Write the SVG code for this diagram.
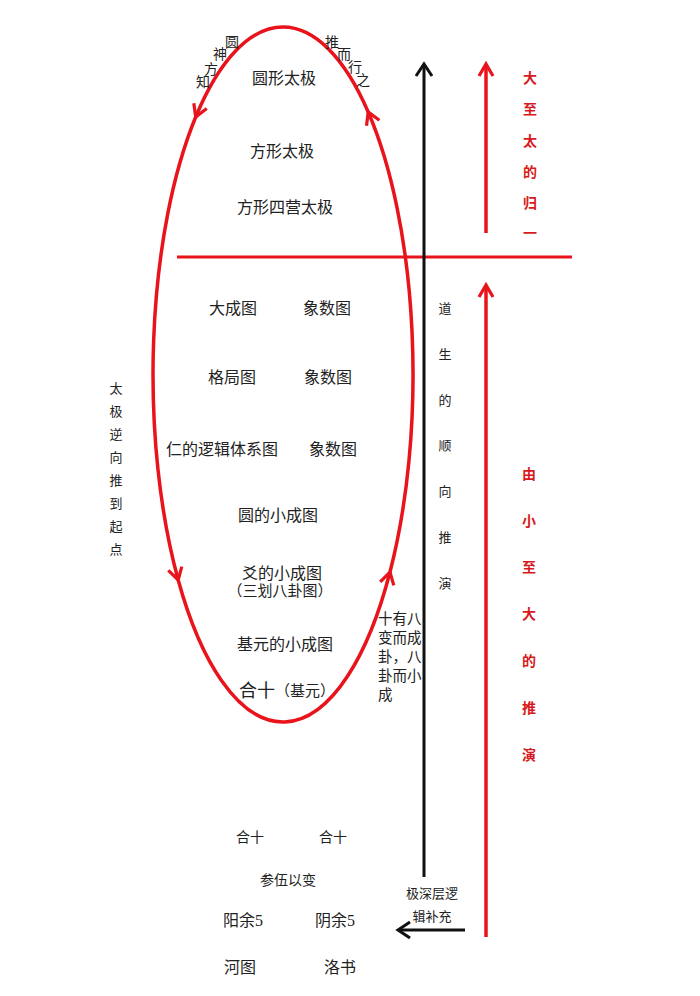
<svg xmlns="http://www.w3.org/2000/svg" width="700" height="996" viewBox="0 0 700 996">
<style>
.t{font-family:"Liberation Serif","Noto Sans CJK SC",serif;font-size:16px;fill:#222;text-anchor:middle;dominant-baseline:central}
.sm{font-size:14px}
.p{font-size:15px}
.big{font-size:18px}
.v{font-size:14.5px;text-anchor:start}
.s{font-family:"Noto Sans CJK SC",sans-serif;font-size:13px;fill:#222;text-anchor:middle;dominant-baseline:central}
.r{font-family:"Noto Sans CJK SC",sans-serif;font-size:14px;fill:#d71920;font-weight:bold;text-anchor:middle;dominant-baseline:central}
.red{stroke:#e8131b;fill:none;stroke-width:3.5}
.blk{stroke:#111;fill:none;stroke-width:3}
</style>
<defs>
<marker id="ar" markerUnits="userSpaceOnUse" markerWidth="20" markerHeight="20" viewBox="-14 -10 20 20" refX="0" refY="0" orient="auto" overflow="visible">
<path d="M-12,-7 L0,0 L-12,7" fill="none" stroke="#e8131b" stroke-width="3.2"/>
</marker>
<marker id="ab" markerUnits="userSpaceOnUse" markerWidth="20" markerHeight="20" viewBox="-14 -10 20 20" refX="0" refY="0" orient="auto" overflow="visible">
<path d="M-12,-8 L0,0 L-12,8" fill="none" stroke="#111" stroke-width="3"/>
</marker>
</defs>
<rect width="700" height="996" fill="#fff"/>
<g id="connectors">
<path id="loop" class="red" d="M283,27 A130,347.5 0 0 0 195.7,117 A130,347.5 0 0 0 178.2,580 A130,347.5 0 0 0 390,572 A130,347.5 0 0 0 368.2,112 A130,347.5 0 0 0 283,27" marker-mid="url(#ar)"/>
<line x1="177" y1="257" x2="572" y2="257" stroke="#e8131b" stroke-width="3"/>
<line class="blk" x1="424" y1="877" x2="424" y2="64" marker-end="url(#ab)"/>
<line class="red" x1="486" y1="233" x2="486" y2="64" stroke-width="3.2" marker-end="url(#ar)"/>
<line class="red" x1="486" y1="937" x2="486" y2="285" stroke-width="3.2" marker-end="url(#ar)"/>
<line class="blk" x1="465" y1="930" x2="398" y2="930" marker-end="url(#ab)"/>
</g>
<g id="n-yuanxing"><text class="t" x="284" y="78">圆形太极</text></g>
<g id="n-yuanshen">
<text class="t sm" x="232" y="42">圆</text><text class="t sm" x="220" y="54">神</text><text class="t sm" x="211" y="69">方</text><text class="t sm" x="203" y="82">知</text>
</g>
<g id="n-tui">
<text class="t sm" x="332" y="42">推</text><text class="t sm" x="344" y="54">而</text><text class="t sm" x="355" y="67">行</text><text class="t sm" x="363" y="80">之</text>
</g>
<g id="n-fangxing"><text class="t" x="282" y="151">方形太极</text></g>
<g id="n-siying"><text class="t" x="285" y="207">方形四营太极</text></g>
<g id="n-dacheng"><text class="t" x="233" y="308">大成图</text></g>
<g id="n-xiangshu1"><text class="t" x="327" y="308">象数图</text></g>
<g id="n-geju"><text class="t" x="232" y="377">格局图</text></g>
<g id="n-xiangshu2"><text class="t" x="328" y="377">象数图</text></g>
<g id="n-ren"><text class="t" x="222" y="449">仁的逻辑体系图</text></g>
<g id="n-xiangshu3"><text class="t" x="333" y="449">象数图</text></g>
<g id="n-yuande"><text class="t" x="278" y="515">圆的小成图</text></g>
<g id="n-yao"><text class="t" x="282" y="573">爻的小成图</text><text class="t p" x="280" y="591">（三划八卦图）</text></g>
<g id="n-jiyuan"><text class="t" x="285" y="644">基元的小成图</text></g>
<g id="n-heshi"><text class="t" x="287" y="691"><tspan class="big">合十</tspan><tspan class="p">（基元）</tspan></text></g>
<g id="n-shiyou">
<text class="t v" x="378" y="619">十有八</text>
<text class="t v" x="378" y="638">变而成</text>
<text class="t v" x="378" y="657">卦，八</text>
<text class="t v" x="378" y="676">卦而小</text>
<text class="t v" x="378" y="695">成</text>
</g>
<g id="n-left">
<text class="s"><tspan x="116" y="387">太</tspan><tspan x="116" y="410">极</tspan><tspan x="116" y="433">逆</tspan><tspan x="116" y="456">向</tspan><tspan x="116" y="479">推</tspan><tspan x="116" y="502">到</tspan><tspan x="116" y="525">起</tspan><tspan x="116" y="548">点</tspan></text>
</g>
<g id="n-daosheng">
<text class="s"><tspan x="445" y="307">道</tspan><tspan x="445" y="353">生</tspan><tspan x="445" y="399">的</tspan><tspan x="445" y="444">顺</tspan><tspan x="445" y="490">向</tspan><tspan x="445" y="536">推</tspan><tspan x="445" y="582">演</tspan></text>
</g>
<g id="n-guiyi">
<text class="r"><tspan x="530" y="77">大</tspan><tspan x="530" y="108">至</tspan><tspan x="530" y="140">太</tspan><tspan x="530" y="171">的</tspan><tspan x="530" y="202">归</tspan><tspan x="530" y="232">一</tspan></text>
</g>
<g id="n-youxiao">
<text class="r"><tspan x="529" y="473">由</tspan><tspan x="529" y="520">小</tspan><tspan x="529" y="566">至</tspan><tspan x="529" y="613">大</tspan><tspan x="529" y="660">的</tspan><tspan x="529" y="707">推</tspan><tspan x="529" y="754">演</tspan></text>
</g>
<g id="n-heshi1"><text class="t sm" x="250" y="837">合十</text></g>
<g id="n-heshi2"><text class="t sm" x="333" y="837">合十</text></g>
<g id="n-canwu"><text class="t sm" x="288" y="880">参伍以变</text></g>
<g id="n-yang"><text class="t" x="243" y="920">阳余5</text></g>
<g id="n-yin"><text class="t" x="335" y="920">阴余5</text></g>
<g id="n-hetu"><text class="t" x="240" y="967">河图</text></g>
<g id="n-luoshu"><text class="t" x="340" y="967">洛书</text></g>
<g id="n-jishen"><text class="s"><tspan x="432" y="892">极深层逻</tspan><tspan x="432" y="915">辑补充</tspan></text></g>
</svg>
